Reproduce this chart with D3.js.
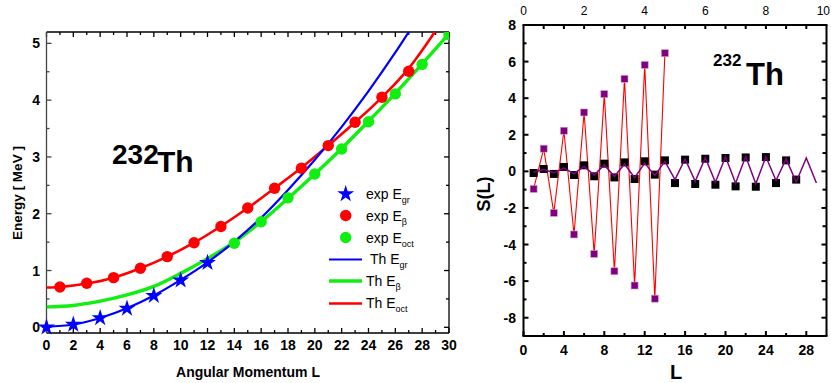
<!DOCTYPE html>
<html><head><meta charset="utf-8">
<script src="https://cdn.jsdelivr.net/npm/d3@7"></script>
<style>body{margin:0;background:#fff}svg{display:block;font-family:"Liberation Sans",Arial,sans-serif}</style>
</head><body>
<svg id="c" width="831" height="383"></svg>
<script>
// ---- Left panel data ----
const expGrL = [0,2,4,6,8,10,12];
const expGrE = [0.0,0.05,0.165,0.333,0.557,0.827,1.137];
const expBetaL = [1,3,5,7,9,11,13,15,17,19,21,23,25,27];
const expBetaE = [0.71,0.775,0.875,1.04,1.245,1.49,1.775,2.10,2.45,2.80,3.20,3.61,4.05,4.51];
const expOctL = [14,16,18,20,22,24,26,28,30];
const expOctE = [1.48,1.86,2.28,2.70,3.14,3.62,4.11,4.63,5.15];
const thGrL = [0,2,4,6,8,10,12,14,16,18,20,22,24,26,27,28];
const thGrE = [0.01,0.05,0.165,0.335,0.56,0.835,1.145,1.51,1.93,2.42,2.95,3.53,4.16,4.84,5.2,5.56];
const thBetaL = [0,2,4,6,8,10,12,14,16,18,20,22,24,26,28,30];
const thBetaE = [0.36,0.385,0.46,0.57,0.72,0.95,1.21,1.50,1.86,2.27,2.70,3.15,3.63,4.12,4.64,5.17];
const thOctL = [0,1,3,5,7,9,11,13,15,17,19,21,23,25,27,29];
const thOctE = [0.70,0.71,0.77,0.875,1.04,1.245,1.49,1.78,2.10,2.45,2.81,3.20,3.61,4.05,4.56,5.22];
const leftXTicks = [0,2,4,6,8,10,12,14,16,18,20,22,24,26,28,30];
const leftYTicks = [0,1,2,3,4,5];

// ---- Right panel data ----
const sExpL = [1,2,3,4,5,6,7,8,9,10,11,12,13,14];
const sExpS = [-0.96,1.24,-2.27,2.22,-3.45,3.22,-4.51,4.22,-5.46,5.06,-6.24,5.82,-6.96,6.46];
const sBlkL = [1,2,3,4,5,6,7,8,9,10,11,12,13,14,15,16,17,18,19,20,21,22,23,24,25,26,27];
const sBlkS = [-0.09,0.13,-0.14,0.24,-0.2,0.33,-0.27,0.42,-0.33,0.49,-0.42,0.55,-0.18,0.6,-0.64,0.64,-0.69,0.69,-0.73,0.73,-0.82,0.76,-0.84,0.78,-0.64,0.6,-0.45];
const sThL = [1,2,3,4,5,6,7,8,9,10,11,12,13,14,15,16,17,18,19,20,21,22,23,24,25,26,27,28,29];
const sThS = [-0.05,0.1,-0.08,0.18,-0.12,0.27,-0.2,0.35,-0.28,0.4,-0.35,0.45,-0.22,0.55,-0.45,0.68,-0.55,0.75,-0.6,0.8,-0.65,0.82,-0.68,0.8,-0.5,0.68,-0.58,0.73,-0.64];
const rightXTicks = [0,4,8,12,16,20,24,28];
const rightYTicks = [-8,-6,-4,-2,0,2,4,6,8];
const rightTopTicks = [0,2,4,6,8,10];

const svg = d3.select("#c");
const BLUE="#0000ff", RED="#ff0000", GREEN="#11ee11", PURPLE="#800080";

// ================= LEFT PANEL =================
const lx = d3.scaleLinear().domain([0,30]).range([46.5,449]);
const ly = d3.scaleLinear().domain([-0.1,5.2]).range([333,32]);
const L = svg.append("g");
L.append("clipPath").attr("id","clipL").append("rect")
  .attr("x",lx(0)).attr("y",ly(5.2)).attr("width",lx(30)-lx(0)).attr("height",ly(-0.1)-ly(5.2));

function tickG(g, scale, vals, len, orient){
  vals.forEach(v=>{
    const p = scale(v);
    if(orient==="bottom") g.append("line").attr("x1",p).attr("x2",p).attr("y1",0).attr("y2",-len);
    if(orient==="top") g.append("line").attr("x1",p).attr("x2",p).attr("y1",0).attr("y2",len);
    if(orient==="left") g.append("line").attr("y1",p).attr("y2",p).attr("x1",0).attr("x2",len);
    if(orient==="right") g.append("line").attr("y1",p).attr("y2",p).attr("x1",0).attr("x2",-len);
  });
}

const lb = L.append("g").attr("transform",`translate(0,${ly(-0.1)})`).attr("stroke","#000").attr("stroke-width",1.3);
lb.append("line").attr("x1",lx(0)).attr("x2",lx(30));
tickG(lb,lx,leftXTicks,5,"bottom");
tickG(lb,lx,d3.range(1,30,2),3,"bottom");
const lt = L.append("g").attr("transform",`translate(0,${ly(5.2)})`).attr("stroke","#000").attr("stroke-width",1.3);
lt.append("line").attr("x1",lx(0)).attr("x2",lx(30));
tickG(lt,lx,leftXTicks,5,"top");
tickG(lt,lx,d3.range(1,30,2),3,"top");
const ll = L.append("g").attr("transform",`translate(${lx(0)},0)`).attr("stroke","#444").attr("stroke-width",1.3);
ll.append("line").attr("y1",ly(-0.1)).attr("y2",ly(5.2));
tickG(ll,ly,leftYTicks,5,"left");
tickG(ll,ly,[0.5,1.5,2.5,3.5,4.5],3,"left");
const lr = L.append("g").attr("transform",`translate(${lx(30)},0)`).attr("stroke","#000").attr("stroke-width",1.3);
lr.append("line").attr("y1",ly(-0.1)).attr("y2",ly(5.2));
tickG(lr,ly,leftYTicks,5,"right");
tickG(lr,ly,[0.5,1.5,2.5,3.5,4.5],3,"right");

L.selectAll(".xl").data(leftXTicks).join("text").attr("x",d=>lx(d)).attr("y",350)
  .attr("text-anchor","middle").attr("font-size",14).attr("font-weight","bold").text(d=>d);
L.selectAll(".yl").data(leftYTicks).join("text").attr("x",40).attr("y",d=>ly(d)+5)
  .attr("text-anchor","end").attr("font-size",14).attr("font-weight","bold").text(d=>d);
L.append("text").attr("x",248).attr("y",377).attr("text-anchor","middle").attr("font-size",14)
  .attr("font-weight","bold").text("Angular Momentum L");
L.append("text").attr("transform","translate(22,193) rotate(-90)").attr("text-anchor","middle")
  .attr("font-size",13.5).attr("font-weight","bold").text("Energy [ MeV ]");

const pl = L.append("g").attr("clip-path","url(#clipL)");
function curve(Ls,Es,color,w){
  pl.append("path").datum(d3.zip(Ls,Es)).attr("fill","none").attr("stroke",color).attr("stroke-width",w)
    .attr("d",d3.line().x(d=>lx(d[0])).y(d=>ly(d[1])).curve(d3.curveMonotoneX));
}
curve(thBetaL,thBetaE,GREEN,3.4);
curve(thOctL,thOctE,RED,2.6);
curve(thGrL,thGrE,BLUE,2.2);
pl.selectAll(".gc").data(d3.zip(expOctL,expOctE)).join("circle").attr("cx",d=>lx(d[0])).attr("cy",d=>ly(d[1])).attr("r",5.7).attr("fill",GREEN);
pl.selectAll(".rc").data(d3.zip(expBetaL,expBetaE)).join("circle").attr("cx",d=>lx(d[0])).attr("cy",d=>ly(d[1])).attr("r",5.7).attr("fill",RED);
const star = d3.symbol(d3.symbolStar).size(90);
L.selectAll(".st").data(d3.zip(expGrL,expGrE)).join("path").attr("d",star)
  .attr("transform",d=>`translate(${lx(d[0])},${ly(d[1])})`).attr("fill",BLUE);

L.append("text").attr("x",112).attr("y",164).attr("font-size",28).attr("font-weight","bold").text("232");
L.append("text").attr("x",157).attr("y",172).attr("font-size",30).attr("font-weight","bold").text("Th");

function legText(x,y,pre,sub){
  const t=L.append("text").attr("x",x).attr("y",y).attr("font-size",14);
  t.append("tspan").text(pre);
  t.append("tspan").attr("font-size",9).attr("dy",4).text(sub);
}
L.append("path").attr("d",star).attr("transform","translate(345.7,194)").attr("fill",BLUE);
L.append("circle").attr("cx",345.7).attr("cy",215.5).attr("r",5.7).attr("fill",RED);
L.append("circle").attr("cx",345.7).attr("cy",237.5).attr("r",5.7).attr("fill",GREEN);
legText(366,199,"exp E","gr");
legText(366,221,"exp E","β");
legText(366,243,"exp E","oct");
L.append("line").attr("x1",329).attr("x2",362).attr("y1",259.5).attr("y2",259.5).attr("stroke",BLUE).attr("stroke-width",2.2);
L.append("line").attr("x1",329).attr("x2",362).attr("y1",281).attr("y2",281).attr("stroke",GREEN).attr("stroke-width",3.4);
L.append("line").attr("x1",329).attr("x2",362).attr("y1",303.5).attr("y2",303.5).attr("stroke",RED).attr("stroke-width",2.6);
legText(370,264,"Th E","gr");
legText(366,286,"Th E","β");
legText(366,308,"Th E","oct");

// ================= RIGHT PANEL =================
const rx = d3.scaleLinear().domain([0,30]).range([523.5,826.5]);
const ry = d3.scaleLinear().domain([-9,8]).range([336,25]);
const rtop = d3.scaleLinear().domain([0,10]).range([523.5,826.5]);
const R = svg.append("g");

const rb = R.append("g").attr("transform",`translate(0,${ry(-9)})`).attr("stroke","#000").attr("stroke-width",2);
rb.append("line").attr("x1",rx(0)-1).attr("x2",rx(30)+1);
tickG(rb,rx,rightXTicks,5,"bottom");
tickG(rb,rx,d3.range(2,30,4),3,"bottom");
const rt = R.append("g").attr("transform",`translate(0,${ry(8)})`).attr("stroke","#000").attr("stroke-width",2);
rt.append("line").attr("x1",rx(0)-1).attr("x2",rx(30)+1);
tickG(rt,rx,d3.range(2,30,2),4,"top");
const rl = R.append("g").attr("transform",`translate(${rx(0)},0)`).attr("stroke","#000").attr("stroke-width",2);
rl.append("line").attr("y1",ry(-9)).attr("y2",ry(8));
tickG(rl,ry,rightYTicks,5,"left");
tickG(rl,ry,[-7,-5,-3,-1,1,3,5,7],3,"left");
const rr = R.append("g").attr("transform",`translate(${rx(30)},0)`).attr("stroke","#000").attr("stroke-width",2);
rr.append("line").attr("y1",ry(-9)).attr("y2",ry(8));
tickG(rr,ry,rightYTicks,5,"right");
tickG(rr,ry,[-7,-5,-3,-1,1,3,5,7],4,"right");

R.selectAll(".xl").data(rightXTicks).join("text").attr("x",d=>rx(d)).attr("y",355)
  .attr("text-anchor","middle").attr("font-size",14).attr("font-weight","bold").text(d=>d);
R.selectAll(".tl").data(rightTopTicks).join("text").attr("x",d=>d===10?830:rtop(d)).attr("y",15)
  .attr("text-anchor",d=>d===10?"end":"middle").attr("font-size",12).text(d=>d);
R.selectAll(".yl").data(rightYTicks).join("text").attr("x",516).attr("y",d=>ry(d)+5)
  .attr("text-anchor","end").attr("font-size",14).attr("font-weight","bold").text(d=>d);
R.append("text").attr("x",676).attr("y",379).attr("text-anchor","middle").attr("font-size",20)
  .attr("font-weight","bold").text("L");
R.append("text").attr("transform","translate(490,194) rotate(-90)").attr("text-anchor","middle")
  .attr("font-size",18).attr("font-weight","bold").text("S(L)");

R.append("path").datum(d3.zip(sExpL,sExpS)).attr("fill","none").attr("stroke",RED).attr("stroke-width",1.1)
  .attr("d",d3.line().x(d=>rx(d[0])).y(d=>ry(d[1])));
R.selectAll(".bs").data(d3.zip(sBlkL,sBlkS)).join("rect").attr("x",d=>rx(d[0])-4).attr("y",d=>ry(d[1])-4)
  .attr("width",8).attr("height",8).attr("fill","#000");
R.append("path").datum(d3.zip(sThL,sThS)).attr("fill","none").attr("stroke",PURPLE).attr("stroke-width",1.5)
  .attr("d",d3.line().x(d=>rx(d[0])).y(d=>ry(d[1])));
R.selectAll(".ps").data(d3.zip(sExpL,sExpS)).join("rect").attr("x",d=>rx(d[0])-3.5).attr("y",d=>ry(d[1])-3.5)
  .attr("width",7).attr("height",7).attr("fill",PURPLE).attr("stroke","#c9a0c9").attr("stroke-width",0.6);

R.append("text").attr("x",713).attr("y",66).attr("font-size",17).attr("font-weight","bold").text("232");
R.append("text").attr("x",746).attr("y",85).attr("font-size",31).attr("font-weight","bold").text("Th");
</script>
</body></html>
